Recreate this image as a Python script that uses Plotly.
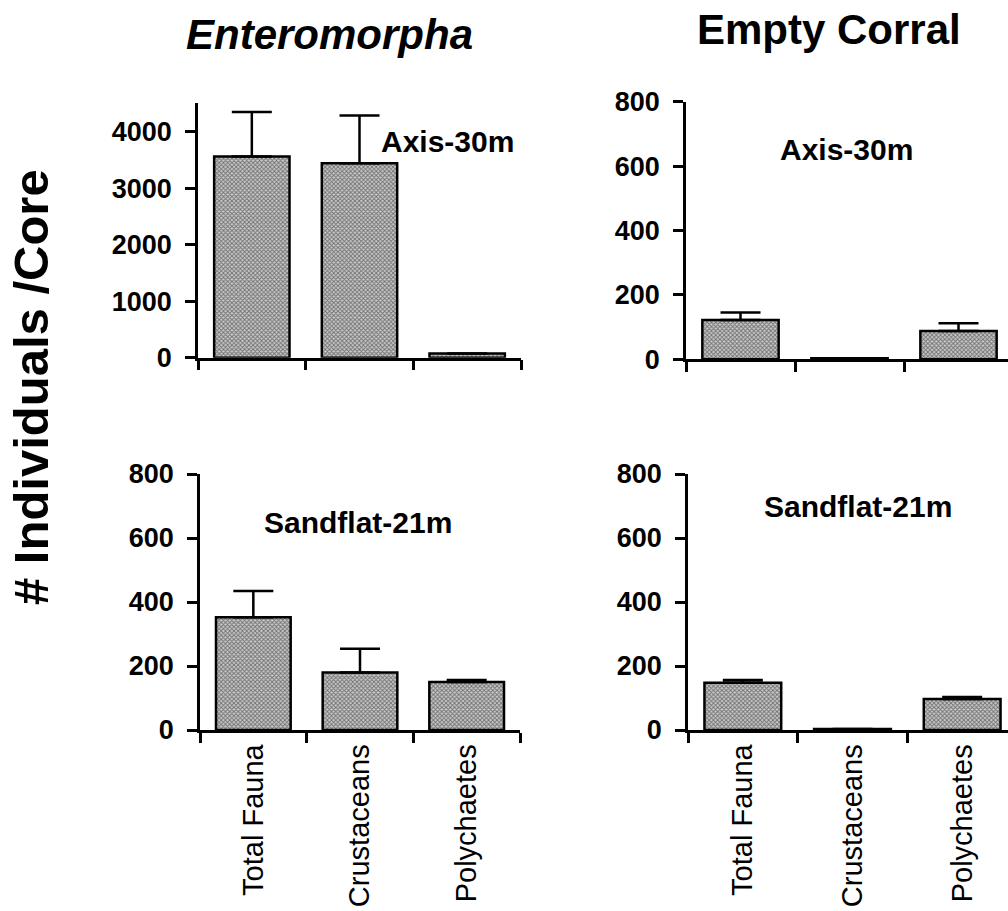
import plotly.graph_objects as go

# Benthic fauna counts per core (mean and standard error)
categories = ["Total Fauna", "Crustaceans", "Polychaetes"]

ent_axis_mean = [3560, 3440, 75]
ent_axis_se = [785, 845, 0]
ent_sand_mean = [352, 180, 150]
ent_sand_se = [82, 74, 6]

empty_axis_mean = [122, 3, 88]
empty_axis_se = [23, 0, 24]
empty_sand_mean = [148, 3, 97]
empty_sand_se = [8, 0, 6]

treatments = ["Enteromorpha", "Empty Corral"]
sites = ["Axis-30m", "Sandflat-21m"]
y_title = "# Individuals /Core"

big_ticks = [0, 1000, 2000, 3000, 4000]
small_ticks = [0, 200, 400, 600, 800]

W, H = 1008, 911
FONT = "Liberation Sans, Arial, Helvetica, sans-serif"


def px(x):
    return x / W


def py(y):
    return 1 - y / H


def bar_trace(means, se, xa, ya):
    return go.Bar(
        x=categories, y=means, xaxis=xa, yaxis=ya, width=0.7,
        marker=dict(
            color="#a0a0a0",
            line=dict(color="black", width=2.5),
            pattern=dict(shape="x", size=3, solidity=0.5,
                         fgcolor="#151515", bgcolor="#cacaca",
                         fillmode="overlay"),
        ),
        error_y=dict(type="data", symmetric=False, array=se,
                     arrayminus=[0] * len(se), color="black",
                     thickness=2.5, width=20),
        showlegend=False, hoverinfo="skip",
    )


fig = go.Figure()
fig.add_trace(bar_trace(ent_axis_mean, ent_axis_se, "x", "y"))
fig.add_trace(bar_trace(empty_axis_mean, empty_axis_se, "x2", "y2"))
fig.add_trace(bar_trace(ent_sand_mean, ent_sand_se, "x3", "y3"))
fig.add_trace(bar_trace(empty_sand_mean, empty_sand_se, "x4", "y4"))

line_style = dict(showline=True, linecolor="black", linewidth=2.5,
                  ticks="outside", ticklen=10, tickwidth=2.5,
                  tickcolor="black", showgrid=False, zeroline=False,
                  automargin=False, fixedrange=True)


def xaxis(domain, anchor, rng, labels):
    return dict(domain=domain, anchor=anchor, type="category",
                range=rng, tickson="boundaries", showticklabels=labels,
                tickangle=-90,
                tickfont=dict(family=FONT, size=29, color="black"),
                **line_style)


def yaxis(domain, anchor, rng, ticks):
    return dict(domain=domain, anchor=anchor, range=rng, tickvals=ticks,
                ticklabelstandoff=8,
                tickfont=dict(family=FONT, size=27, color="black",
                              weight="bold"),
                **line_style)


fig.update_layout(
    width=W, height=H,
    margin=dict(l=0, r=0, t=0, b=0),
    paper_bgcolor="white", plot_bgcolor="white",
    xaxis=xaxis([px(198), px(521)], "y", [-0.5, 2.5], False),
    yaxis=yaxis([py(357.7), py(103.3)], "x", [0, 4500], big_ticks),
    xaxis2=xaxis([px(686), 1.0], "y2", [-0.5, 2.454], False),
    yaxis2=yaxis([py(359.3), py(101.7)], "x2", [0, 800], small_ticks),
    xaxis3=xaxis([px(200), px(520)], "y3", [-0.5, 2.5], True),
    yaxis3=yaxis([py(730), py(474)], "x3", [0, 800], small_ticks),
    xaxis4=xaxis([px(688), 1.0], "y4", [-0.5, 2.418], True),
    yaxis4=yaxis([py(730), py(474)], "x4", [0, 800], small_ticks),
)

ann = []
# column headings
ann.append(dict(x=px(329), y=py(35), text="<i>" + treatments[0] + "</i>",
                font=dict(family=FONT, size=42, color="black", weight="bold")))
ann.append(dict(x=px(829), y=py(30), text=treatments[1],
                font=dict(family=FONT, size=42, color="black", weight="bold")))
# shared y-axis title
ann.append(dict(x=px(31), y=py(387), text=y_title, textangle=-90,
                font=dict(family=FONT, size=49, color="black", weight="bold")))
# site labels inside each panel
for xx, yy, t in [(447, 142, sites[0]), (846, 149, sites[0]),
                  (358, 522, sites[1]), (858, 507, sites[1])]:
    ann.append(dict(x=px(xx), y=py(yy), text=t,
                    font=dict(family=FONT, size=30, color="black",
                              weight="bold")))
for a in ann:
    a.update(xref="paper", yref="paper", showarrow=False,
             xanchor="center", yanchor="middle")
fig.update_layout(annotations=ann)

fig.write_html("out.html")
